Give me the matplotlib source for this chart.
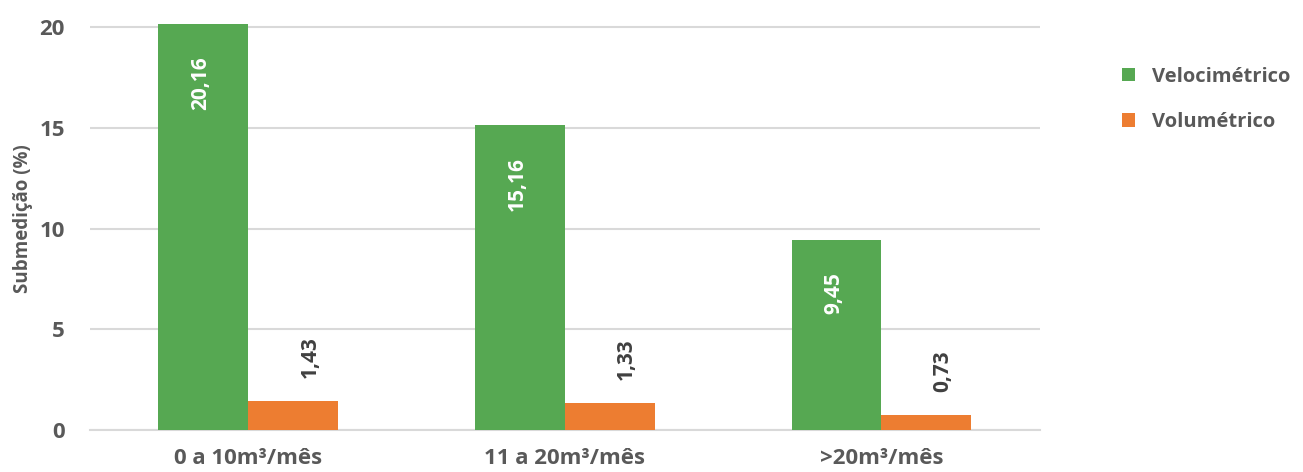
import matplotlib
matplotlib.use("Agg")
import matplotlib.pyplot as plt
import numpy as np

# dados
categorias = ["0 a 10m³/mês", "11 a 20m³/mês", ">20m³/mês"]
velocimetrico = [20.16, 15.16, 9.45]
volumetrico = [1.43, 1.33, 0.73]
rotulos_vel = ["20,16", "15,16", "9,45"]
rotulos_vol = ["1,43", "1,33", "0,73"]

verde = "#56A852"
laranja = "#ED7D31"
cinza = "#595959"

plt.rcParams['font.family'] = ['Open Sans', 'DejaVu Sans']
plt.rcParams['font.weight'] = 'bold'

fig = plt.figure(figsize=(13.03, 4.72), dpi=100)
ax = fig.add_axes([0.069, 0.089, 0.729, 0.896])

x = np.arange(len(categorias))
w = 0.284
b1 = ax.bar(x - w / 2, velocimetrico, w, color=verde, label="Velocimétrico", zorder=3)
b2 = ax.bar(x + w / 2, volumetrico, w, color=laranja, label="Volumétrico", zorder=3)

for rect, txt in zip(b1, rotulos_vel):
    ax.annotate(txt, (rect.get_x() + rect.get_width() / 2, rect.get_height()),
                xytext=(-2, -23), textcoords="offset points", rotation=90,
                ha="center", va="top", color="white", fontsize=15, fontweight="bold")

for rect, txt in zip(b2, rotulos_vol):
    ax.annotate(txt, (rect.get_x() + rect.get_width() / 2, rect.get_height()),
                xytext=(12, 17), textcoords="offset points", rotation=90,
                ha="center", va="bottom", color="#404040", fontsize=15, fontweight="bold")

ax.set_xlim(-0.5, 2.5)
ax.set_ylim(0, 21)
ax.set_yticks([0, 5, 10, 15, 20])
ax.set_xticks(x)
ax.set_xticklabels(categorias)
ax.yaxis.grid(True, color="#D9D9D9", linewidth=1.5, zorder=0)
ax.set_axisbelow(True)
for s in ["top", "right", "left"]:
    ax.spines[s].set_visible(False)
ax.spines["bottom"].set_color("#D9D9D9")
ax.spines["bottom"].set_linewidth(1.5)
ax.tick_params(length=0, labelsize=16, labelcolor=cinza, pad=13)
ax.tick_params(axis="y", pad=18)
for lbl in ax.get_xticklabels() + ax.get_yticklabels():
    lbl.set_fontweight("bold")
ax.set_ylabel("Submedição (%)", fontsize=13.5, color=cinza, fontweight="bold")
ax.yaxis.set_label_coords(-0.06, 0.5)

fig.legend(handles=[b1, b2], loc="upper left", bbox_to_anchor=(0.847, 0.897),
           frameon=False, labelcolor=cinza, handlelength=0.65,
           handleheight=0.65, handletextpad=0.85, labelspacing=1.25,
           prop={"weight": "bold", "size": 14.5})

fig.savefig("out.png", dpi=100)
